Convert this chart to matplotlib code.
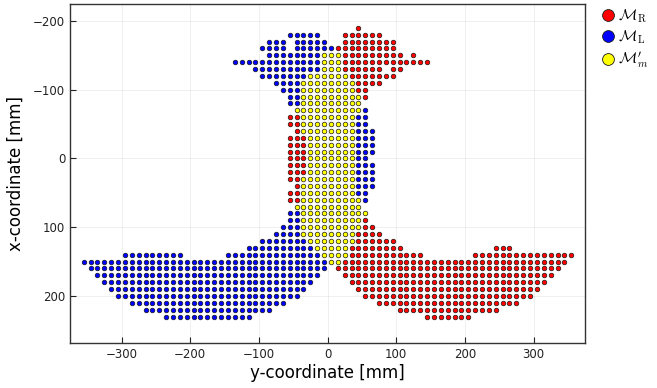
import numpy as np
import matplotlib
matplotlib.use("Agg")
import matplotlib.pyplot as plt
from matplotlib.lines import Line2D

plt.rcParams['mathtext.fontset'] = 'cm'
plt.rcParams['font.family'] = ['DejaVu Sans']

# Row segments: (row x-coordinate, first y, last y), 10 mm spacing
R_x  = [-190,-180,-170,-160,-150,-150,-140,-130,-130,-120,-110,-100,-90,
        -60,-50,-40,-30,-20,-10,0,10,20,30,40,50,60,
        90,100,110,120,130,130,140,140,150,160,170,180,190,200,210,220,230]
R_y0 = [45,25,25,15,25,125,25,25,95,35,45,45,55,
        -55,-55,-45,-55,-55,-55,-55,-55,-55,-55,-45,-55,-55,
        55,55,45,45,35,245,35,215,25,15,25,35,45,55,75,105,145]
R_y1 = [45,75,95,95,105,125,145,75,105,95,75,55,55,
        -45,-45,-45,-35,-35,-35,-35,-35,-35,-45,-45,-45,-45,
        55,65,75,95,105,265,135,355,345,335,325,315,305,295,275,245,205]

L_x  = [-180,-170,-170,-160,-160,-150,-140,-130,-120,-110,-100,-90,-80,
        -70,-60,-50,-40,-30,-20,-10,0,10,20,30,40,50,60,
        80,90,100,110,120,130,140,140,150,160,170,180,190,200,210,220,230]
L_y0 = [-55,-85,-45,-95,-45,-85,-135,-105,-95,-75,-65,-55,-55,
        55,45,45,45,45,45,45,45,45,45,45,45,45,55,
        -55,-55,-65,-75,-95,-115,-295,-145,-355,-345,-335,-325,-315,-305,-285,-265,-235]
L_y1 = [-15,-65,-5,-65,5,-15,-15,-15,-35,-45,-45,-45,-45,
        55,55,55,65,65,65,65,55,65,65,65,65,55,55,
        -45,-45,-45,-45,-35,-25,-215,-15,-5,-5,-15,-25,-35,-45,-65,-85,-115]

M_x  = [-150,-140,-130,-120,-110,-100,-90,-80,-70,-60,-50,-40,-30,-20,-10,0,
        10,20,30,40,50,60,70,80,90,100,110,120,130,140,150]
M_y0 = [-5,-5,-5,-25,-35,-35,-35,-35,-45,-35,-35,-35,-25,-25,-25,-25,
        -25,-25,-35,-35,-35,-35,-45,-35,-35,-35,-35,-25,-15,-5,5]
M_y1 = [15,15,15,25,35,35,45,45,45,35,35,35,35,35,35,35,
        35,35,35,35,35,45,45,55,45,45,35,35,25,25,15]

labels = [r'$\mathcal{M}_{\mathrm{R}}$', r'$\mathcal{M}_{\mathrm{L}}$', r'$\mathcal{M}^{\prime}_{m}$']
colors = ['#ff0000', '#0000ff', '#ffff00']
x_ticks = [-300, -200, -100, 0, 100, 200, 300]
y_ticks = [-200, -100, 0, 100, 200]


def expand(xs, y0s, y1s):
    px, py = [], []
    for x, a, b in zip(xs, y0s, y1s):
        for y in range(a, b + 1, 10):
            px.append(y)
            py.append(x)
    return np.array(px), np.array(py)


fig = plt.figure(figsize=(6.57, 3.88), dpi=100)
W, H = 657, 388
l, r, t, b = 70, 585, 4, 343
ax = fig.add_axes([l / W, 1 - b / H, (r - l) / W, (b - t) / H])

for (xs, y0s, y1s), lab, col in zip(
        [(R_x, R_y0, R_y1), (L_x, L_y0, L_y1), (M_x, M_y0, M_y1)], labels, colors):
    hx, vy = expand(xs, y0s, y1s)
    ax.scatter(hx, vy, s=11, c=col, edgecolors='#1a1a1a', linewidths=0.5, zorder=3)

ax.set_xlim(-375, 375)
ax.set_ylim(268.4, -224.7)
ax.set_xticks(x_ticks)
ax.set_yticks(y_ticks)
ax.grid(True, color='#000000', alpha=0.07, linewidth=0.6)
ax.set_axisbelow(True)
ax.tick_params(direction='in', length=4, width=0.8, labelsize=8.5, colors='#222222',
               top=False, right=False)
for s in ax.spines.values():
    s.set_linewidth(1.0)
    s.set_color('#333333')
ax.set_xlabel('y-coordinate [mm]', fontsize=12, labelpad=2)
ax.set_ylabel('x-coordinate [mm]', fontsize=12, labelpad=6)

handles = [Line2D([], [], linestyle='none', marker='o', markersize=8.5,
                  markerfacecolor=c, markeredgecolor='#1a1a1a', markeredgewidth=0.6)
           for c in colors]
fig.legend(handles, labels, loc='upper left', bbox_to_anchor=(592 / W, 1 - 1 / H),
           frameon=False, fontsize=11, handletextpad=0.0, labelspacing=0.25,
           handlelength=1.3, borderaxespad=0)

fig.savefig('out.png', dpi=100)
